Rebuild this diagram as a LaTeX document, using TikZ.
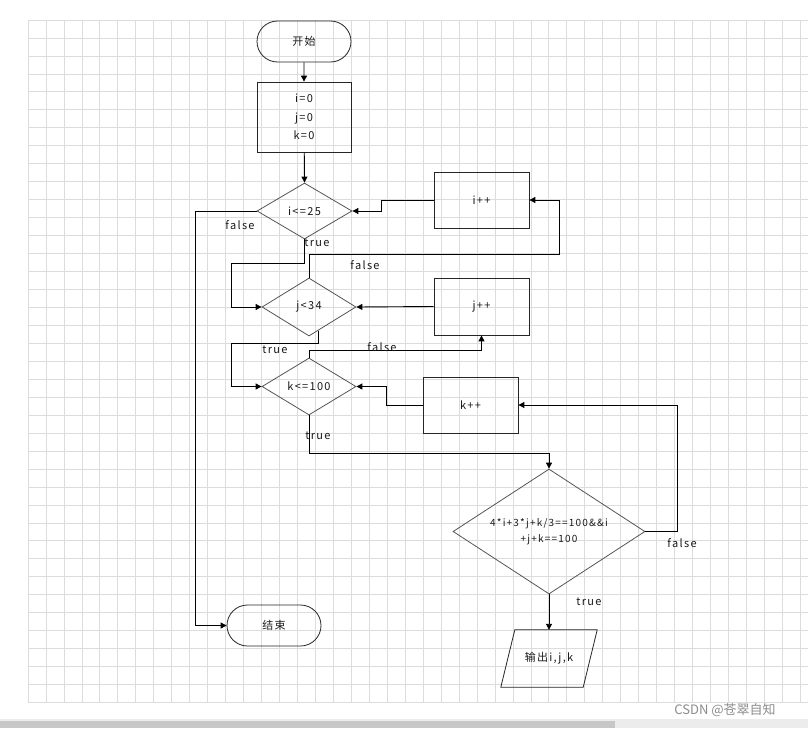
\documentclass[tikz,border=0pt]{standalone}
\usepackage{fontspec}
\setmainfont{Noto Sans CJK SC}[LetterSpace=12]
\newfontfamily\wmfont{Noto Sans CJK SC}
\usetikzlibrary{arrows.meta,shapes.geometric,shapes.misc,calc}
\definecolor{gridc}{HTML}{DCDCDC}
\definecolor{txt}{HTML}{1A1A1A}
\definecolor{dborder}{HTML}{555555}
\tikzset{
  term/.style={draw=black!85, line width=0.8pt, rounded rectangle, minimum width=94pt, minimum height=41pt, inner sep=0pt, text=txt, font=\fontsize{11}{13}\selectfont},
  procbox/.style={draw=black!85, line width=0.8pt, rectangle, inner sep=0pt, text=txt, font=\fontsize{11}{13}\selectfont},
  decbox/.style={draw=dborder, line width=0.8pt, diamond, inner sep=0pt},
  lbl/.style={text=txt, font=\fontsize{11}{13}\selectfont, inner sep=0pt},
  conn/.style={draw=black, line width=0.9pt},
  arr/.style={conn, -{Triangle[length=6pt,width=6pt]}},
  gridline/.style={draw=gridc, line width=0.7pt}
}
\begin{document}
\begin{tikzpicture}[x=1pt,y=-1pt]
\useasboundingbox (0,0) rectangle (808,728);
\fill[white] (0,0) rectangle (808,728);
% grid
\foreach \i in {0,...,43} { \draw[gridline] ({28+\i*17.96},20) -- ({28+\i*17.96},702); }
\foreach \j in {0,...,38} { \draw[gridline] (28,{20+\j*17.96}) -- (808,{20+\j*17.96}); }
% scrollbar
\fill[gray!15] (0,719) rectangle (808,728);
\fill[black!22] (0,721) rectangle (615,728);

% nodes
\node[term] (start) at (304,41.5) {开始};
\node[procbox, minimum width=94pt, minimum height=70pt, align=center, font=\fontsize{11}{18.5}\selectfont] (init) at (304,117) {i=0\\j=0\\k=0};
\node[decbox, minimum width=95pt, minimum height=56pt] (d1) at (304.5,211) {};
\node[lbl] at (304.5,211) {i<=25};
\node[procbox, minimum width=95pt, minimum height=56pt] (ipp) at (481.5,200) {i++};
\node[decbox, minimum width=94pt, minimum height=58pt] (d2) at (309,307) {};
\node[lbl] at (309,307) {j<34};
\node[procbox, minimum width=95pt, minimum height=57pt] (jpp) at (481.5,306.5) {j++};
\node[decbox, minimum width=94pt, minimum height=57pt] (d3) at (309,386.5) {};
\node[lbl] at (309,386.5) {k<=100};
\node[procbox, minimum width=95pt, minimum height=56pt] (kpp) at (470.5,405) {k++};
\node[decbox, minimum width=192pt, minimum height=125pt] (d4) at (549,531.5) {};
\node[lbl, align=center, font=\fontsize{10}{16}\selectfont] at (549,532) {4*i+3*j+k/3==100\&\&i\\+j+k==100};
\node[inner sep=0pt, minimum width=96pt, minimum height=57pt] (out) at (549,658.5) {};
\draw[black!85, line width=0.8pt] ($(out.north west)+(14,0)$) -- (out.north east) -- ($(out.south east)+(-14,0)$) -- (out.south west) -- cycle;
\node[lbl] at (549,658.5) {输出i,j,k};
\node[term] (endn) at (274,625.5) {结束};

% connectors
\draw[arr] (start) -- (init);
\draw[arr] (init) -- (d1.north);
\draw[arr] (ipp.west) -- ++(-52,0) |- (d1.east);
\draw[arr] (d1.west) -- ++(-61,0) |- (endn.west);
\draw[arr] (d1.south) |- (231,263) |- (d2.west);
\draw[arr] (d2.north) |- (559,254) |- (ipp.east);
\draw[arr] (jpp.west) -- (d2.east);
\draw[arr] ($(d2.south)!0.2!(d2.east)$) |- (231,343) |- (d3.west);
\draw[arr] (d3.north) -- ++(0,-7) -| (jpp.south);
\draw[arr] (kpp.west) -- ++(-36,0) |- (d3.east);
\draw[arr] (d3.south) -- ++(0,38) -| (d4.north);
\draw[arr] (d4.east) -- ++(32,0) |- (kpp.east);
\draw[arr] (d4.south) -- (out.north);

% labels
\node[lbl] at (240,225) {false};
\node[lbl] at (317,243) {true};
\node[lbl] at (365,265) {false};
\node[lbl] at (275,350) {true};
\node[lbl] at (382,347) {false};
\node[lbl] at (318,436) {true};
\node[lbl] at (682,543) {false};
\node[lbl] at (589,602) {true};

% watermark
\node[text=black!45, font=\wmfont\fontsize{13}{15}\selectfont, inner sep=0pt] (wm) at (725,710) {CSDN @苍翠自知};
\end{tikzpicture}
\end{document}
